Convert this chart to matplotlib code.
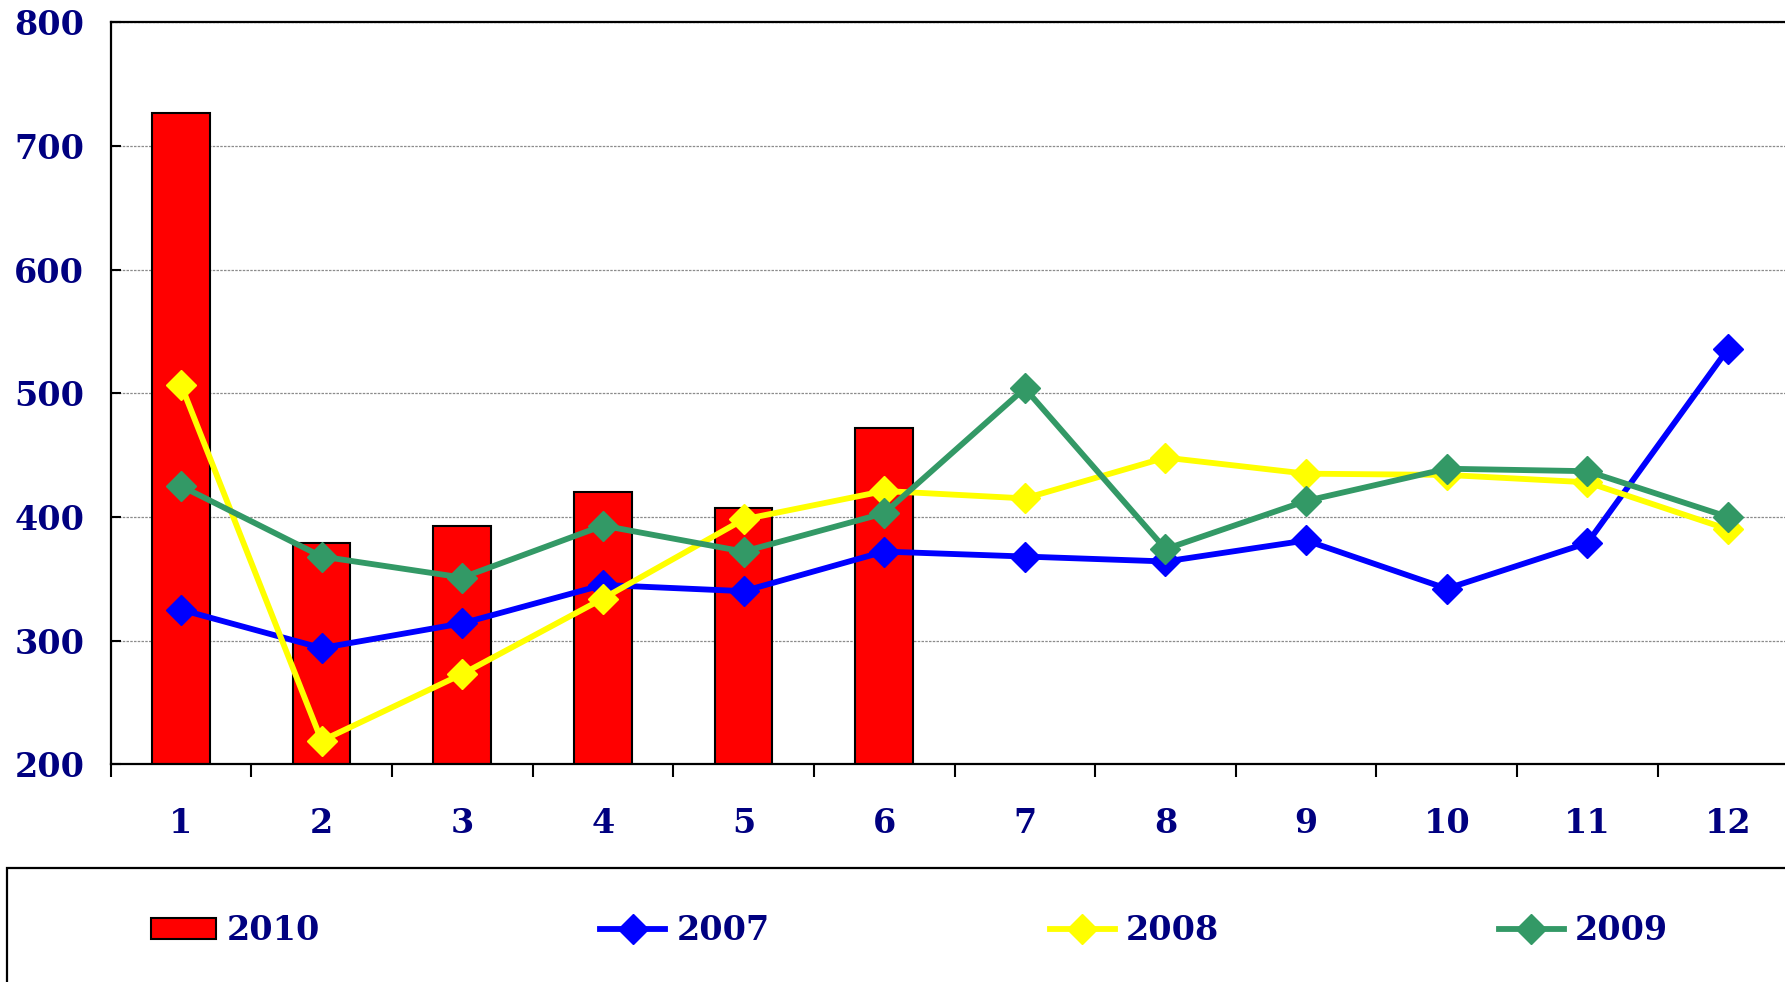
import matplotlib.pyplot as plt
from matplotlib.patches import Rectangle
from matplotlib.lines import Line2D
import numpy as np

meses = ['1', '2', '3', '4', '5', '6', '7', '8', '9', '10', '11', '12']
v2010 = [727, 379, 393, 420, 407, 472]
v2007 = [325, 294, 314, 345, 340, 372, 368, 364, 381, 342, 379, 536]
v2008 = [507, 219, 273, 334, 398, 421, 415, 448, 435, 434, 428, 390]
v2009 = [425, 368, 351, 393, 372, 403, 504, 374, 413, 439, 437, 400]

azul_txt = '#000080'
fuente = 'DejaVu Serif'
tam = 24

fig = plt.figure(figsize=(17.85, 9.82), dpi=100)
ax = fig.add_axes([0.062, 0.2217, 0.9455, 0.7556])

x = np.arange(len(meses))

# barras 2010
ax.bar(x[:len(v2010)], v2010, width=0.41, color='#FF0000', edgecolor='black',
       linewidth=1.5, zorder=2)

# lineas 2007-2009
estilo = dict(marker='D', markersize=15, linewidth=4.2, zorder=3)
ax.plot(x, v2007, color='#0000FF', **estilo)
ax.plot(x, v2008, color='#FFFF00', **estilo)
ax.plot(x, v2009, color='#339966', **estilo)

ax.set_xlim(-0.5, 11.5)
ax.set_ylim(200, 800)
ax.set_yticks(range(200, 801, 100))
ax.set_xticks(x)
ax.set_xticklabels(meses)
ax.set_xticks(np.arange(-0.5, 12, 1), minor=True)

ax.yaxis.grid(True, color='#8c8c8c', linewidth=0.9, linestyle=(0, (2, 1)), zorder=0)
ax.set_axisbelow(True)

ax.tick_params(axis='y', direction='in', length=7, width=1.5, pad=19)
ax.tick_params(axis='x', which='major', length=0, pad=31)
ax.tick_params(axis='x', which='minor', direction='out', length=9, width=1.5)

for lab in ax.get_xticklabels() + ax.get_yticklabels():
    lab.set_fontfamily(fuente)
    lab.set_fontweight('bold')
    lab.set_fontsize(tam)
    lab.set_color(azul_txt)

for s in ax.spines.values():
    s.set_linewidth(1.6)
    s.set_color('black')

# caja de la leyenda
fig.patches.append(Rectangle((7 / 1785, -0.05), 1.1, (982 - 868) / 982 + 0.05,
                             transform=fig.transFigure, facecolor='none',
                             edgecolor='black', linewidth=1.6))

estilo_ley = dict(marker='D', markersize=15, linewidth=4.2)
handles = [
    Rectangle((0, 0), 1, 1, facecolor='#FF0000', edgecolor='black', linewidth=1.5),
    Line2D([], [], color='#0000FF', **estilo_ley),
    Line2D([], [], color='#FFFF00', **estilo_ley),
    Line2D([], [], color='#339966', **estilo_ley),
]
leg = fig.legend(handles, ['2010', '2007', '2008', '2009'], ncol=4,
                 loc='center left', bbox_to_anchor=(151 / 1785, 0.052),
                 frameon=False, borderpad=0, borderaxespad=0,
                 handlelength=1.95, handleheight=0.6,
                 handletextpad=0.33, columnspacing=8.4,
                 prop={'family': fuente, 'weight': 'bold', 'size': tam})
for t in leg.get_texts():
    t.set_color(azul_txt)

plt.savefig('out.png', dpi=100)
